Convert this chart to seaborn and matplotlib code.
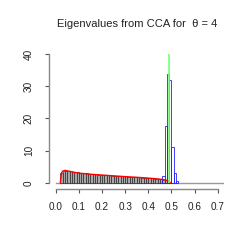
import numpy as np
import pandas as pd
import seaborn as sns
import matplotlib.pyplot as plt

# bulk of eigenvalues (density per 0.01 bin, left edges 0.02 .. 0.48)
bulk_left = np.round(np.arange(0.02, 0.485, 0.01), 2)
bulk_height = [3.0, 3.8, 3.8, 3.7, 3.6, 3.4, 3.3, 3.2, 3.1, 3.0,
               2.95, 2.9, 2.8, 2.75, 2.7, 2.6, 2.55, 2.5, 2.45, 2.4,
               2.35, 2.3, 2.25, 2.2, 2.15, 2.1, 2.05, 2.0, 1.95, 1.9,
               1.85, 1.8, 1.75, 1.7, 1.65, 1.6, 1.55, 1.5, 1.45, 1.4,
               1.3, 1.25, 1.2, 1.1, 1.0, 0.9, 0.7]

# spike near theta-related eigenvalue
spike_left = [0.46, 0.47, 0.48, 0.49, 0.50, 0.51, 0.52]
spike_height = [2.1, 17.5, 33.8, 32.1, 11.2, 2.9, 0.6]

# theoretical density (red)
dens_x = [0.02, 0.025, 0.03, 0.04, 0.06, 0.08, 0.10, 0.15, 0.20, 0.25,
          0.30, 0.35, 0.40, 0.44, 0.46, 0.48, 0.49, 0.495]
dens_y = [0.0, 3.0, 3.6, 3.85, 3.55, 3.25, 3.0, 2.65, 2.4, 2.15,
          1.9, 1.7, 1.45, 1.2, 1.05, 0.75, 0.4, 0.0]

spike_pos = 0.49

bw = 0.01
bulk = pd.DataFrame({'v': bulk_left + bw / 2, 'w': bulk_height})
spike = pd.DataFrame({'v': np.array(spike_left) + bw / 2, 'w': spike_height})

plt.rcParams['font.family'] = ['Liberation Sans', 'DejaVu Sans']
fig = plt.figure(figsize=(2.49, 2.49), dpi=100)
ax = fig.add_axes([0.1976, 0.2454, 0.703, 0.558])

sns.histplot(data=bulk, x='v', weights='w', bins=len(bulk_left),
             binrange=(0.02, 0.49), stat='count',
             color='#a8a8a8', edgecolor='#111111', linewidth=0.4, alpha=1, ax=ax)
ax.plot([0.0, 0.725], [0, 0], color='#999999', lw=1, zorder=0)
sns.histplot(data=spike, x='v', weights='w', bins=len(spike_left),
             binrange=(0.46, 0.53), stat='count', fill=False,
             color='#2222ff', linewidth=0.6, ax=ax)
sns.lineplot(x=dens_x, y=dens_y, color='red', lw=1, ax=ax)
ax.vlines(spike_pos, 0, 40, color='#77ff77', lw=1.2)

ax.set_xlim(-0.028, 0.728)
ax.set_ylim(-1.6, 41.6)
ax.set_xticks(np.round(np.arange(0, 0.71, 0.1), 1))
ax.set_xticklabels([f'{v:.1f}' for v in np.arange(0, 0.71, 0.1)])
ax.set_yticks([0, 10, 20, 30, 40])
ax.set_yticklabels(['0', '10', '20', '30', '40'], rotation=90, va='center')
for s in ['top', 'right']:
    ax.spines[s].set_visible(False)
ax.spines['left'].set_bounds(0, 40)
ax.spines['bottom'].set_bounds(0, 0.7)
ax.spines['bottom'].set_position(('outward', 1))
for s in ['left', 'bottom']:
    ax.spines[s].set_color('#888888')
    ax.spines[s].set_linewidth(1)
ax.tick_params(axis='both', colors='#555555', labelcolor='#222222',
               length=3, width=0.8, labelsize=7.2)
ax.tick_params(axis='x', pad=6)
ax.tick_params(axis='y', pad=8)
ax.set_xlabel('')
ax.set_ylabel('')
ax.set_facecolor('white')
fig.text(0.551, 0.905, 'Eigenvalues from CCA for  θ = 4', ha='center',
         va='center', fontsize=8.0, color='#222222')

fig.savefig('out.png', dpi=100)
